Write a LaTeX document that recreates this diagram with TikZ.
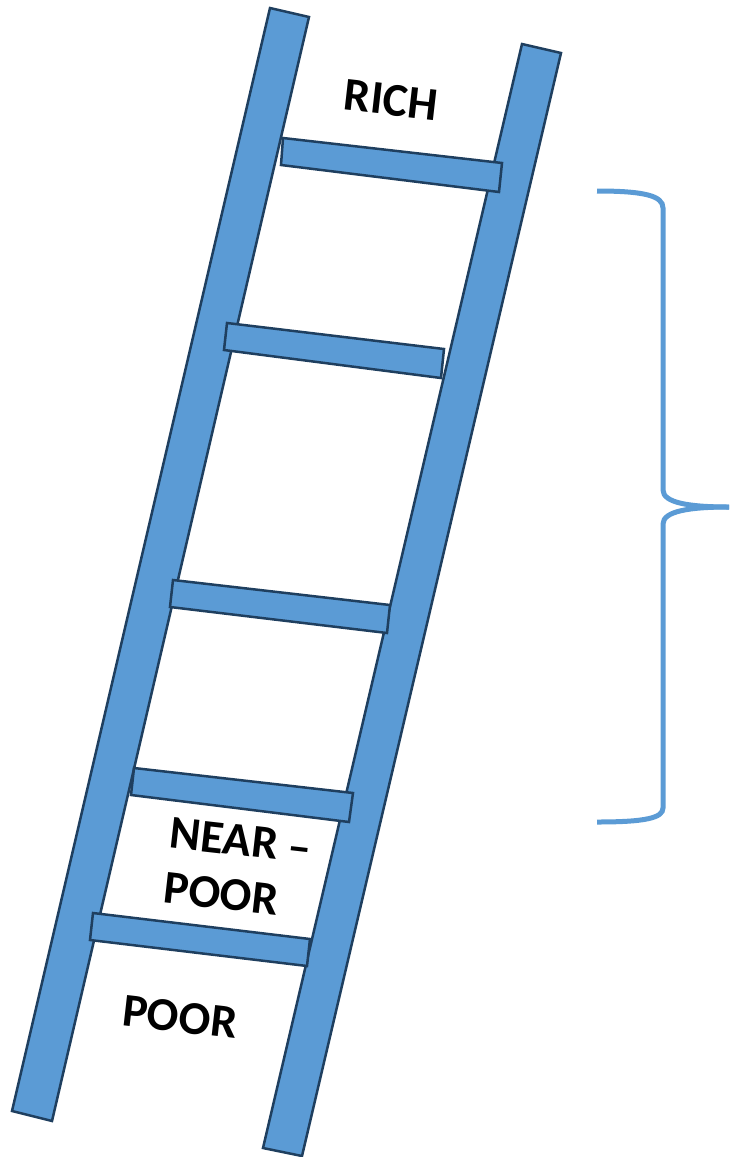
\documentclass[tikz,border=0pt]{standalone}
\usepackage{fontspec}
\setmainfont{Carlito}
\definecolor{ladderfill}{HTML}{5B9BD5}
\definecolor{ladderedge}{HTML}{1F3F5F}
\definecolor{bracecol}{HTML}{5B9BD5}
\begin{document}
\begin{tikzpicture}[x=1pt,y=-1pt,
  part/.style={fill=ladderfill,draw=ladderedge,line width=2.5pt,line join=miter},
  lbl/.style={font=\bfseries\fontsize{47}{55}\selectfont,rotate=-6.5,inner sep=0pt,align=left},
  bracestyle/.style={draw=bracecol,line width=5pt}]
\useasboundingbox (0,0) rectangle (729,1157);
% rails
\draw[part] (270,8) -- (309,17) -- (52,1121) -- (12,1111) -- cycle;
\draw[part] (522,44) -- (561,53) -- (302,1156) -- (263,1148) -- cycle;
% rungs
\draw[part] (283,138) -- (502,163) -- (499,192) -- (281,165) -- cycle;
\draw[part] (227,323) -- (444,349) -- (441,378) -- (224,350) -- cycle;
\draw[part] (173,580) -- (390,605) -- (387,633) -- (170,607) -- cycle;
\draw[part] (134,768) -- (353,793) -- (349,822) -- (131,795) -- cycle;
\draw[part] (93,913) -- (310,939) -- (307,966) -- (90,940) -- cycle;
% labels
\node[lbl] (rich) at (391,100) {RICH};
\node[lbl] (near) at (238,868) {NEAR –\\POOR};
\node[lbl] (poor) at (180,1017) {POOR};
% brace
\draw[bracestyle] (597,191) .. controls (645,191) and (663,196) .. (663,208)
  -- (663,490) .. controls (663,503) and (690,507) .. (729,507);
\draw[bracestyle] (729,507) .. controls (690,507) and (663,511) .. (663,524)
  -- (663,808) .. controls (663,818) and (645,822) .. (597,822);
\end{tikzpicture}
\end{document}
